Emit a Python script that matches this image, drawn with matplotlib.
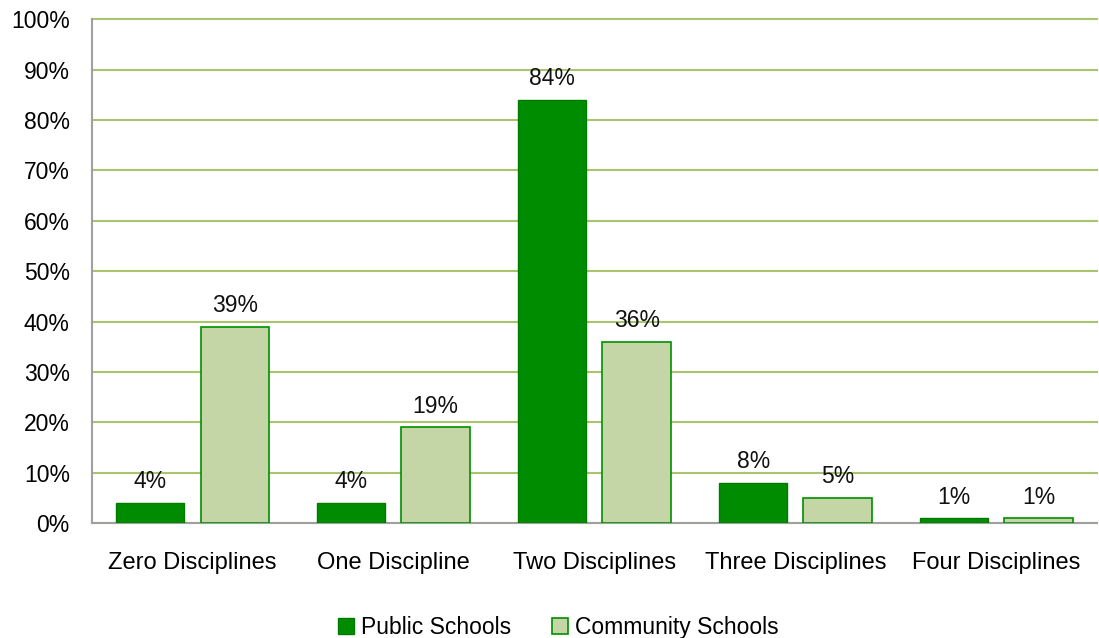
import numpy as np
import matplotlib.pyplot as plt

categories = ["Zero Disciplines", "One Discipline", "Two Disciplines", "Three Disciplines", "Four Disciplines"]
public_schools = [4, 4, 84, 8, 1]
community_schools = [39, 19, 36, 5, 1]
series_names = ["Public Schools", "Community Schools"]

plt.rcParams['font.family'] = ['Liberation Sans', 'DejaVu Sans']
fs = 16.5

fig = plt.figure(figsize=(10.99, 6.38), dpi=100)
ax = fig.add_axes([0.0837, 0.180, 0.9143, 0.790])

x = np.arange(len(categories))
w = 0.34
off = 0.21

b1 = ax.bar(x - off, public_schools, w, color='#008C00', edgecolor='#007A00', linewidth=1, zorder=3,
            label=series_names[0])
b2 = ax.bar(x + off, community_schools, w, color='#C4D6A6', edgecolor='#009000', linewidth=1.2, zorder=3,
            label=series_names[1])

for bars, vals in [(b1, public_schools), (b2, community_schools)]:
    for b, v in zip(bars, vals):
        ax.text(b.get_x() + b.get_width() / 2, v + 1.9, f"{v}%", ha='center', va='bottom',
                fontsize=fs, color='#111111', zorder=4)

ax.set_xlim(-0.5, len(categories) - 0.5)
ax.set_ylim(0, 100)
ax.set_yticks(range(0, 101, 10))
ax.set_yticklabels([f"{t}%" for t in range(0, 101, 10)], fontsize=fs)
ax.set_xticks(x)
ax.set_xticklabels(categories, fontsize=17)
ax.tick_params(axis='y', length=0, pad=16)
ax.tick_params(axis='x', length=0, pad=21)

ax.yaxis.grid(True, color='#A9C46C', linewidth=1.5, zorder=0, clip_on=False)
ax.set_axisbelow(True)
for s in ['top', 'right']:
    ax.spines[s].set_visible(False)
ax.spines['left'].set_color('#A0A0A0')
ax.spines['bottom'].set_color('#A0A0A0')
ax.spines['left'].set_linewidth(1.5)
ax.spines['bottom'].set_linewidth(1.5)

fig.legend(handles=[b1, b2], loc='center', bbox_to_anchor=(0.508, 0.017), ncol=2, frameon=False, fontsize=fs,
           handlelength=0.7, handleheight=0.7, handletextpad=0.3, columnspacing=1.8,
           borderpad=0, borderaxespad=0)

fig.savefig("out.png", dpi=100)
